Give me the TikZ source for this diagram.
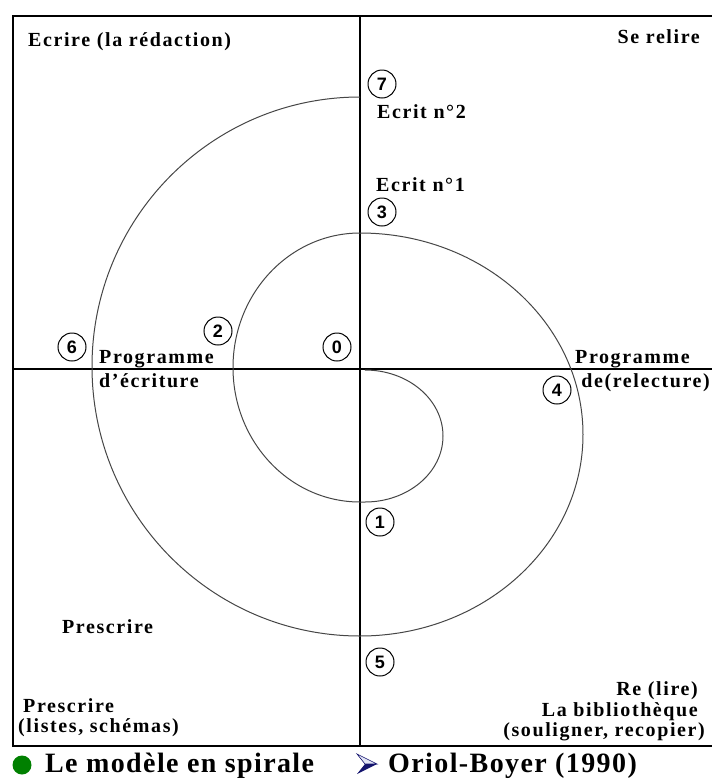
\documentclass[tikz,border=0pt]{standalone}
\usepackage{fontspec}
\setmainfont{Liberation Serif}
\newfontfamily\labfont[LetterSpace=8]{Liberation Serif}
\newfontfamily\titfont[LetterSpace=5]{Liberation Serif}
\newfontfamily\numfont{Liberation Sans}
\definecolor{spiralgray}{RGB}{70,70,70}
\definecolor{dotgreen}{RGB}{0,128,0}
\definecolor{navy}{RGB}{20,20,110}
\definecolor{paleblue}{RGB}{225,228,245}
\begin{document}
\begin{tikzpicture}[x=1pt,y=-1pt,
  frame/.style={line width=2.5pt,black},
  axis/.style={line width=2pt,black},
  spiral/.style={line width=1pt,spiralgray},
  lab/.style={inner sep=0pt,font=\labfont\bfseries\fontsize{20}{22}\selectfont},
  tit/.style={inner sep=0pt,font=\titfont\bfseries\fontsize{28}{30}\selectfont},
  num/.style={circle,draw=black,line width=1pt,minimum size=28pt,inner sep=0pt,
    font=\numfont\bfseries\fontsize{18}{18}\selectfont}]
\useasboundingbox (0,0) rectangle (712,780);
\fill[white] (0,0) rectangle (712,780);
% frame
\coordinate (tr) at (714,16);
\coordinate (tl) at (13,16);
\coordinate (bl) at (13,746);
\coordinate (br) at (714,746);
\draw[frame] (tr) -- (tl) -- (bl) -- (br);
% axes
\coordinate (vt) at (360,16);
\coordinate (vb) at (360,746);
\coordinate (hl) at (13,369);
\coordinate (hr) at (714,369);
\draw[axis] (vt) -- (vb);
\draw[axis] (hl) -- (hr);
% spiral
\coordinate (s0) at (365,370);
\draw[spiral] (s0)
  arc[start angle=90,end angle=-90,x radius=78pt,y radius=66pt]
  -- (360,502)
  arc[start angle=-90,end angle=-270,x radius=127pt,y radius=134.5pt]
  arc[start angle=90,end angle=-90,x radius=223pt,y radius=201.5pt]
  arc[start angle=-90,end angle=-270,x radius=268pt,y radius=269.5pt];
% numbered circles
\node[num] (n7) at (382,84) {7};
\node[num] (n3) at (382,212) {3};
\node[num] (n6) at (72,347) {6};
\node[num] (n2) at (218,331) {2};
\node[num] (n0) at (337,347) {0};
\node[num] (n4) at (557,390) {4};
\node[num] (n1) at (380,522) {1};
\node[num] (n5) at (380,662) {5};
% labels
\node[lab,anchor=base west] (ecrire) at (28,46) {Ecrire (la rédaction)};
\node[lab,anchor=base east] (relire) at (700,43) {Se relire};
\node[lab,anchor=base west] (e2) at (377,118) {Ecrit n°2};
\node[lab,anchor=base west] (e1) at (376,191) {Ecrit n°1};
\node[lab,anchor=base west] (pg1) at (99,363) {Programme};
\node[lab,anchor=base west] (pg2) at (99,387) {d’écriture};
\node[lab,anchor=base west] (pd1) at (575,363) {Programme};
\node[lab,anchor=base east] (pd2) at (710,387) {de(relecture)};
\node[lab,anchor=base west] (pr1) at (62,633) {Prescrire};
\node[lab,anchor=base west] (pr2) at (23,712) {Prescrire};
\node[lab,anchor=base west] (pr3) at (18,732) {(listes, schémas)};
\node[lab,anchor=base east] (rl1) at (698,695) {Re (lire)};
\node[lab,anchor=base east] (rl2) at (698,716) {La bibliothèque};
\node[lab,anchor=base east] (rl3) at (705,736) {(souligner, recopier)};
% bottom caption
\fill[dotgreen] (22,765) circle (9.5pt);
\node[tit,anchor=base west] (t1) at (45,772) {Le modèle en spirale};
\fill[paleblue,draw=navy,line width=0.6pt] (357,754) -- (377,764) -- (365,764) -- cycle;
\fill[navy] (357,774) -- (377,764) -- (365,764) -- cycle;
\node[tit,anchor=base west] (t2) at (388,772) {Oriol-Boyer (1990)};
\end{tikzpicture}
\end{document}
